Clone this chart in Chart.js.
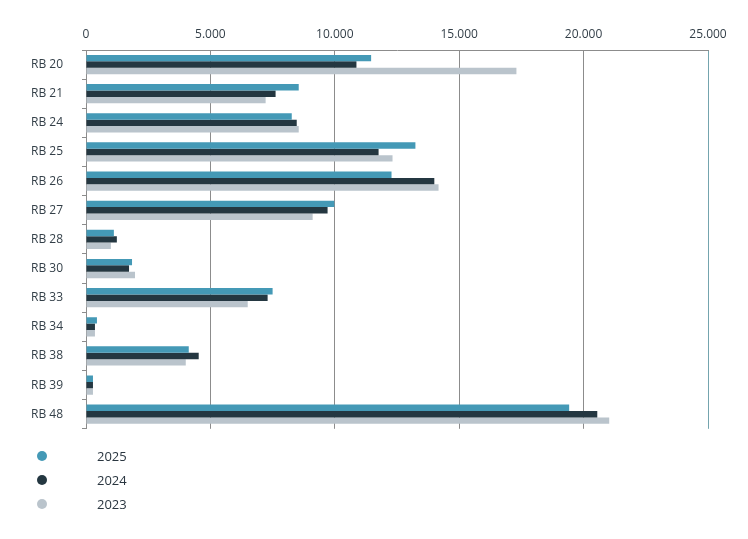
<!DOCTYPE html>
<html>
<head>
<meta charset="utf-8">
<script src="https://cdn.jsdelivr.net/npm/chart.js@4/dist/chart.umd.min.js"></script>
<style>
  html, body { margin: 0; padding: 0; background: #fff; }
  #wrap { position: relative; width: 748px; height: 455px; }
  #legend { position: absolute; left: 0; top: 444px; font-family: "Open Sans", sans-serif; font-size: 13px; color: #2a3640; }
  .item { position: absolute; left: 0; height: 24px; width: 200px; }
  .dot { position: absolute; left: 37px; top: 7px; width: 10px; height: 10px; border-radius: 50%; }
  .lbl { position: absolute; left: 97px; top: 3px; }
</style>
</head>
<body>
<div id="wrap"><canvas id="chart"></canvas></div>
<div id="legend"></div>
<script>
// data
const categories = ['RB 20', 'RB 21', 'RB 24', 'RB 25', 'RB 26', 'RB 27', 'RB 28', 'RB 30', 'RB 33', 'RB 34', 'RB 38', 'RB 39', 'RB 48'];
const values2025 = [11460, 8550, 8270, 13240, 12280, 9980, 1120, 1850, 7500, 440, 4130, 280, 19420];
const values2024 = [10870, 7620, 8470, 11760, 14000, 9710, 1240, 1730, 7300, 360, 4530, 280, 20550];
const values2023 = [17300, 7220, 8550, 12320, 14170, 9110, 1000, 1970, 6500, 360, 4010, 280, 21030];
const seriesNames = ['2025', '2024', '2023'];
const seriesColors = ['#4499b6', '#243741', '#bac4cc'];
const xTicks = [0, 5000, 10000, 15000, 20000, 25000];

const fmt = v => String(v).replace(/\B(?=(\d{3})+(?!\d))/g, '.');

const datasets = [values2025, values2024, values2023].map((d, i) => ({
    label: seriesNames[i],
    data: d,
    backgroundColor: seriesColors[i],
    borderWidth: 0,
    categoryPercentage: 0.66,
    barPercentage: 1.0
}));

new Chart(document.getElementById('chart'), {
    type: 'bar',
    data: { labels: categories, datasets: datasets },
    options: {
        indexAxis: 'y',
        responsive: true,
        maintainAspectRatio: false,
        animation: false,
        layout: { padding: { left: 0, right: 40, top: 0, bottom: 13 } },
        plugins: { legend: { display: false }, tooltip: { enabled: false } },
        scales: {
            x: {
                position: 'top',
                min: 0,
                max: 25000,
                afterBuildTicks: s => { s.ticks = xTicks.map(v => ({ value: v })); },
                afterFit: s => { s.height = 50; },
                ticks: {
                    callback: v => fmt(v),
                    font: { family: 'Open Sans', size: 12 },
                    color: '#333f48',
                    padding: 8,
                    maxRotation: 0
                },
                grid: {
                    drawTicks: false,
                    color: c => (c.tick && c.tick.value === 25000) ? '#74a4ae' : '#8c8c8c',
                    lineWidth: 1
                },
                border: { display: true, color: '#8c8c8c' }
            },
            y: {
                afterFit: s => { s.width = 86; },
                ticks: {
                    font: { family: 'Open Sans', size: 12 },
                    color: '#333f48',
                    padding: 19
                },
                grid: {
                    drawOnChartArea: false,
                    drawTicks: true,
                    tickLength: 4,
                    color: '#8c8c8c'
                },
                border: { display: true, color: '#8c8c8c' }
            }
        }
    }
});

// legend, stacked vertically under the chart
const legend = document.getElementById('legend');
seriesNames.forEach((name, i) => {
    const item = document.createElement('div');
    item.className = 'item';
    item.style.top = (i * 24) + 'px';
    item.innerHTML = '<span class="dot" style="background:' + seriesColors[i] + '"></span><span class="lbl">' + name + '</span>';
    legend.appendChild(item);
});
</script>
</body>
</html>
